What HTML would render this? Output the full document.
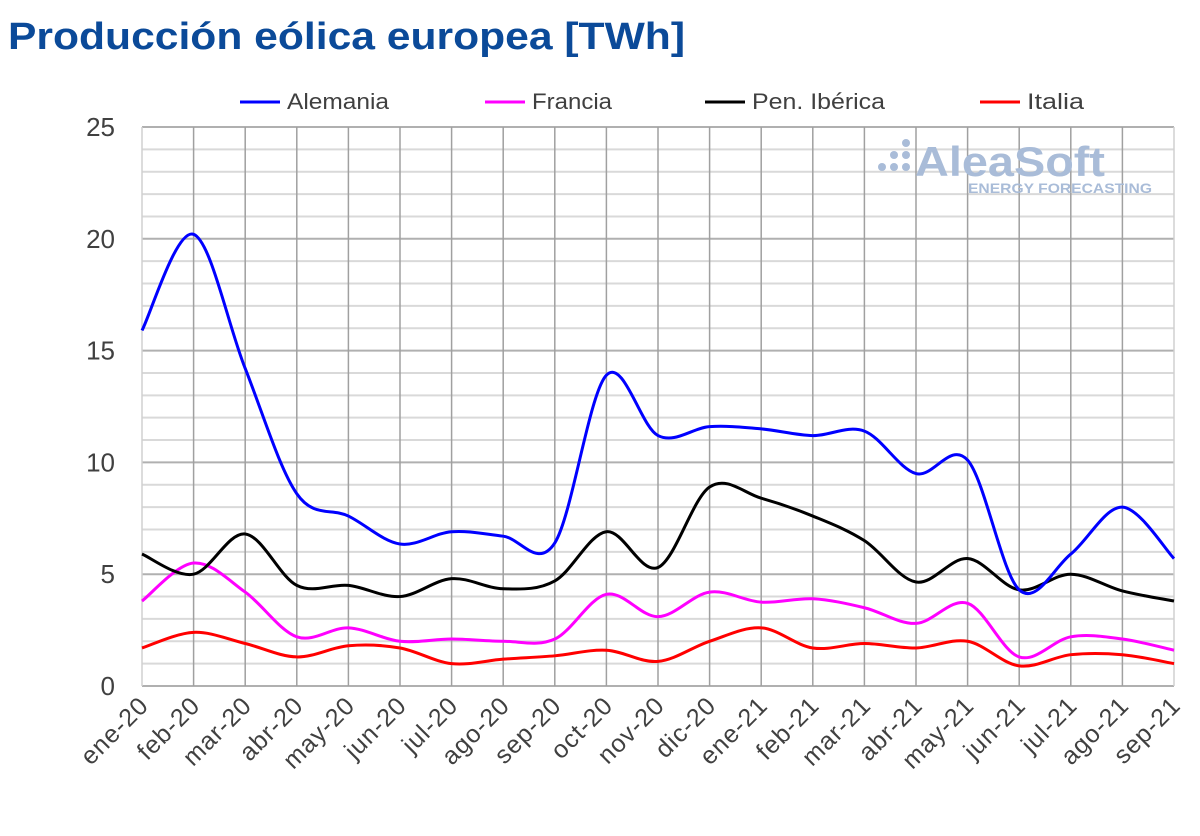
<!DOCTYPE html>
<html><head><meta charset="utf-8"><style>
body{margin:0;background:#fff;width:1200px;height:831px;overflow:hidden;font-family:"Liberation Sans",sans-serif}
</style></head><body>
<svg id="s" width="1200" height="831" xmlns="http://www.w3.org/2000/svg" font-family="Liberation Sans, sans-serif">
<text x="8" y="49" font-size="38" font-weight="bold" fill="#0b4a99" textLength="677" lengthAdjust="spacingAndGlyphs">Producción eólica europea [TWh]</text>
<g id="grid"></g>
<g font-size="22" fill="#404040">
<line x1="240" y1="102" x2="280" y2="102" stroke="#0000ff" stroke-width="3"/><text x="287" y="109" textLength="102" lengthAdjust="spacingAndGlyphs">Alemania</text>
<line x1="485" y1="102" x2="525" y2="102" stroke="#ff00ff" stroke-width="3"/><text x="532" y="109" textLength="80" lengthAdjust="spacingAndGlyphs">Francia</text>
<line x1="705" y1="102" x2="745" y2="102" stroke="#000" stroke-width="3"/><text x="752" y="109" textLength="133" lengthAdjust="spacingAndGlyphs">Pen. Ibérica</text>
<line x1="980" y1="102" x2="1020" y2="102" stroke="#ff0000" stroke-width="3"/><text x="1027" y="109" textLength="57" lengthAdjust="spacingAndGlyphs">Italia</text>
</g>
<g fill="#a9bcd8">
<circle cx="906" cy="143" r="4"/><circle cx="906" cy="155" r="4"/><circle cx="894" cy="155" r="4"/><circle cx="906" cy="167" r="4"/><circle cx="894" cy="167" r="4"/><circle cx="882" cy="167" r="4"/>
<text x="915" y="176" font-size="42" font-weight="bold" textLength="190" lengthAdjust="spacingAndGlyphs">AleaSoft</text>
<text x="968" y="193" font-size="14" font-weight="bold" textLength="184" lengthAdjust="spacingAndGlyphs">ENERGY FORECASTING</text>
</g>
<g id="lines"></g>
</svg>
<script>
var X0=142,DX=51.6,Y0=686,DY=22.36,ns="http://www.w3.org/2000/svg";
function el(p,t,a,txt){var e=document.createElementNS(ns,t);for(var k in a)e.setAttribute(k,a[k]);if(txt!==undefined)e.textContent=txt;p.appendChild(e);return e;}
var g=document.getElementById("grid");
for(var i=0;i<=25;i++){var y=Y0-i*DY;el(g,"line",{x1:X0,x2:X0+20*DX,y1:y,y2:y,stroke:i%5==0?"#b0b0b0":"#d9d9d9","stroke-width":2});
if(i%5==0)el(g,"text",{x:115,y:y+9,"font-size":26,fill:"#404040","text-anchor":"end"},i);}
var m=["ene-20","feb-20","mar-20","abr-20","may-20","jun-20","jul-20","ago-20","sep-20","oct-20","nov-20","dic-20","ene-21","feb-21","mar-21","abr-21","may-21","jun-21","jul-21","ago-21","sep-21"];
for(var j=0;j<21;j++){var x=X0+j*DX;el(g,"line",{x1:x,x2:x,y1:Y0-25*DY,y2:Y0,stroke:(j==0||j==20)?"#d0d0d0":"#a0a0a0","stroke-width":1.5});
el(g,"text",{x:0,y:0,"font-size":25,"letter-spacing":1,fill:"#404040","text-anchor":"end",transform:"translate("+(x+8)+",707) rotate(-45)"},m[j]);}
var D=[
["#ff0000",[1.7,2.4,1.9,1.3,1.8,1.7,1.0,1.2,1.35,1.6,1.1,2.0,2.6,1.7,1.9,1.7,2.0,0.9,1.4,1.4,1.0]],
["#ff00ff",[3.8,5.5,4.2,2.2,2.6,2.0,2.1,2.0,2.1,4.1,3.1,4.2,3.75,3.9,3.5,2.8,3.7,1.3,2.2,2.1,1.6]],
["#000000",[5.9,5.0,6.8,4.5,4.5,4.0,4.8,4.35,4.7,6.9,5.3,8.9,8.4,7.6,6.5,4.65,5.7,4.3,5.0,4.25,3.8]],
["#0000ff",[15.9,20.2,14.2,8.6,7.6,6.35,6.9,6.7,6.4,13.9,11.2,11.6,11.5,11.2,11.4,9.5,10.1,4.3,5.9,8.0,5.7]]];
var L=document.getElementById("lines");
D.forEach(function(s){var p=s[1].map(function(v,i){return [X0+i*DX,Y0-v*DY]});
var d="M"+p[0][0]+","+p[0][1];
for(var i=0;i<p.length-1;i++){var a=p[Math.max(i-1,0)],b=p[i],c=p[i+1],e=p[Math.min(i+2,p.length-1)],t=6;
d+=" C"+(b[0]+(c[0]-a[0])/t)+","+(b[1]+(c[1]-a[1])/t)+" "+(c[0]-(e[0]-b[0])/t)+","+(c[1]-(e[1]-b[1])/t)+" "+c[0]+","+c[1];}
el(L,"path",{d:d,fill:"none",stroke:s[0],"stroke-width":3,"stroke-linejoin":"round"});});
</script>
</body></html>
